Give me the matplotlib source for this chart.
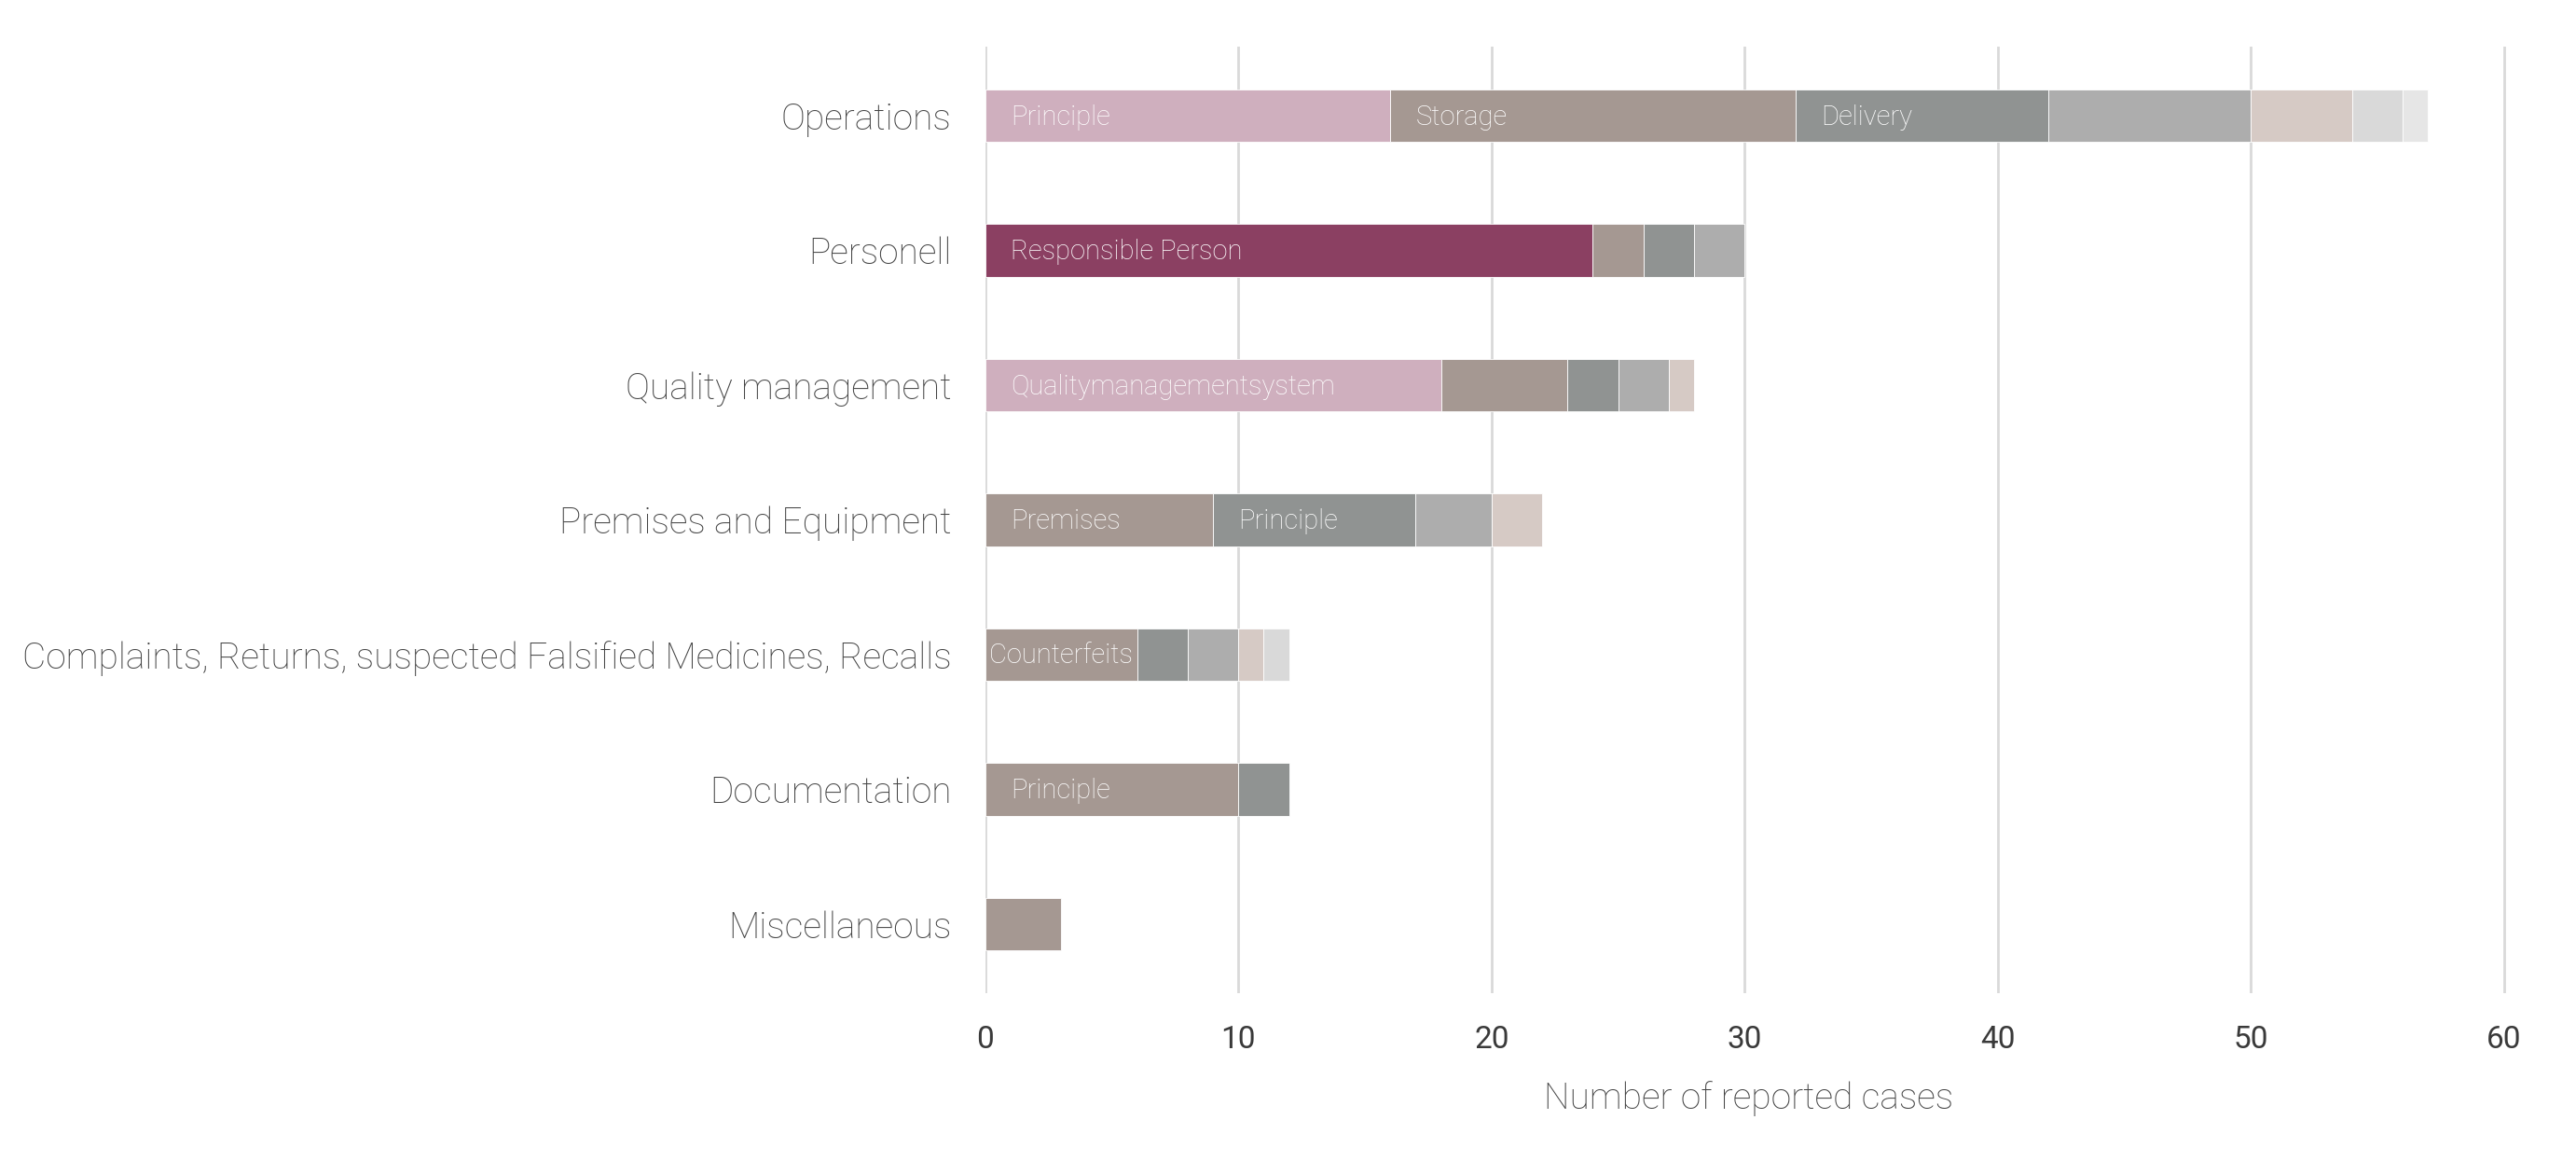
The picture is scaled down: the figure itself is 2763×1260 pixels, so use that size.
import matplotlib.pyplot as plt

categories = ["Operations", "Personell", "Quality management", "Premises and Equipment",
              "Complaints, Returns, suspected Falsified Medicines, Recalls",
              "Documentation", "Miscellaneous"]

# segment values per category (left to right)
operations = [16, 16, 10, 8, 4, 2, 1]
personell = [24, 2, 2, 2]
quality = [18, 5, 2, 2, 1]
premises = [9, 8, 3, 2]
complaints = [6, 2, 2, 1, 1]
documentation = [10, 2]
misc = [3]

# names written inside the first segments
operations_names = ["Principle", "Storage", "Delivery"]
personell_names = ["Responsible Person"]
quality_names = ["Qualitymanagementsystem"]
premises_names = ["Premises", "Principle"]
complaints_names = ["Counterfeits"]
documentation_names = ["Principle"]
misc_names = []

pink = "#CFAFBE"
brown = "#A59892"
gray = "#909392"
lgray = "#ADADAD"
rose = "#D6CAC5"
pale = "#D9D9D9"
palest = "#E6E6E6"
wine = "#8B4062"

rows = [
    (operations, operations_names, [pink, brown, gray, lgray, rose, pale, palest]),
    (personell, personell_names, [wine, brown, gray, lgray]),
    (quality, quality_names, [pink, brown, gray, lgray, rose]),
    (premises, premises_names, [brown, gray, lgray, rose]),
    (complaints, complaints_names, [brown, gray, lgray, rose, pale]),
    (documentation, documentation_names, [brown, gray]),
    (misc, misc_names, [brown]),
]

plt.rcParams["font.family"] = ["Roboto", "DejaVu Sans"]

fig = plt.figure(figsize=(27.63, 12.6), dpi=100)
ax = fig.add_axes([0.3825, 0.155, 0.5925, 0.805])

for i, (values, names, colors) in enumerate(rows):
    left = 0
    for j, v in enumerate(values):
        ax.barh(i, v, left=left, height=0.39, color=colors[j],
                edgecolor="white", linewidth=0.6, zorder=3)
        if j < len(names):
            pad = 1 if v >= 8 else 0.15
            ax.text(left + pad, i + 0.01, names[j], color="white", fontsize=21,
                    fontweight="light", ha="left", va="center", zorder=4)
        left += v

ax.set_xlim(0, 60.3)
ax.set_ylim(6.51, -0.51)
ax.set_xticks(range(0, 61, 10))
ax.set_yticks(range(len(categories)))
ax.set_yticklabels(categories, fontsize=28, fontweight="light", color="#444444")
for lbl in ax.get_xticklabels():
    lbl.set_fontsize(24)
    lbl.set_color("#3a3a3a")
ax.tick_params(axis="y", length=0, pad=26)
ax.tick_params(axis="x", length=0, pad=25)
ax.xaxis.grid(True, color="#D9D9D9", linewidth=2, zorder=0)
for s in ax.spines.values():
    s.set_visible(False)
ax.set_xlabel("Number of reported cases", fontsize=28, fontweight="light",
              color="#444444", labelpad=20)

fig.savefig("out.png", dpi=100)
